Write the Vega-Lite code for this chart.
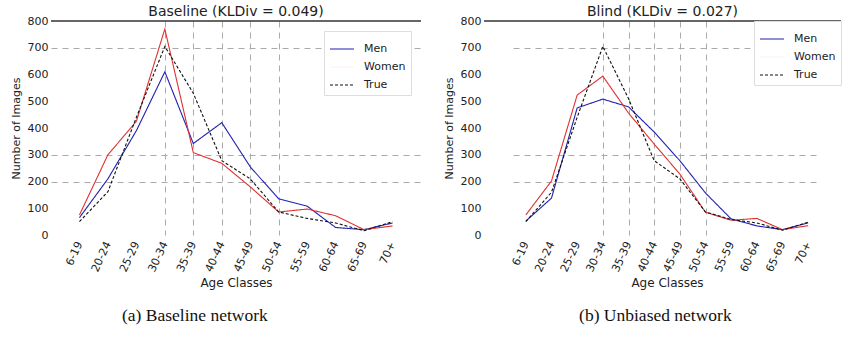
{
  "$schema": "https://vega.github.io/schema/vega-lite/v6.json",
  "padding": {"left": 10, "top": 5, "right": 0, "bottom": 0},
  "background": "white",
  "spacing": 21,
  "config": {
    "font": "DejaVu Sans",
    "view": {"stroke": null},
    "axis": {"labelFont": "DejaVu Sans", "titleFont": "DejaVu Sans", "labelColor": "#222222", "titleColor": "#222222", "titleFontWeight": "normal", "domain": false, "ticks": false},
    "title": {"font": "DejaVu Sans", "fontWeight": "normal", "fontSize": 14, "color": "#222222"},
    "legend": {"labelFont": "DejaVu Sans", "labelFontSize": 11, "labelColor": "#222222", "fillColor": "white", "strokeColor": "#dddddd", "padding": 5, "symbolType": "stroke", "symbolSize": 576, "symbolStrokeWidth": 1.2, "rowPadding": -6.5, "labelOffset": 9}
  },
  "datasets": {
    "baseline": [
      {"age": "6-19", "series": "Men", "count": 65}, {"age": "20-24", "series": "Men", "count": 210}, {"age": "25-29", "series": "Men", "count": 390}, {"age": "30-34", "series": "Men", "count": 610}, {"age": "35-39", "series": "Men", "count": 342}, {"age": "40-44", "series": "Men", "count": 420}, {"age": "45-49", "series": "Men", "count": 255}, {"age": "50-54", "series": "Men", "count": 135}, {"age": "55-59", "series": "Men", "count": 108}, {"age": "60-64", "series": "Men", "count": 28}, {"age": "65-69", "series": "Men", "count": 20}, {"age": "70+", "series": "Men", "count": 45},
      {"age": "6-19", "series": "Women", "count": 75}, {"age": "20-24", "series": "Women", "count": 300}, {"age": "25-29", "series": "Women", "count": 425}, {"age": "30-34", "series": "Women", "count": 770}, {"age": "35-39", "series": "Women", "count": 308}, {"age": "40-44", "series": "Women", "count": 268}, {"age": "45-49", "series": "Women", "count": 180}, {"age": "50-54", "series": "Women", "count": 86}, {"age": "55-59", "series": "Women", "count": 97}, {"age": "60-64", "series": "Women", "count": 72}, {"age": "65-69", "series": "Women", "count": 20}, {"age": "70+", "series": "Women", "count": 34},
      {"age": "6-19", "series": "True", "count": 50}, {"age": "20-24", "series": "True", "count": 162}, {"age": "25-29", "series": "True", "count": 440}, {"age": "30-34", "series": "True", "count": 705}, {"age": "35-39", "series": "True", "count": 530}, {"age": "40-44", "series": "True", "count": 278}, {"age": "45-49", "series": "True", "count": 210}, {"age": "50-54", "series": "True", "count": 86}, {"age": "55-59", "series": "True", "count": 62}, {"age": "60-64", "series": "True", "count": 45}, {"age": "65-69", "series": "True", "count": 16}, {"age": "70+", "series": "True", "count": 50}
    ],
    "blind": [
      {"age": "6-19", "series": "Men", "count": 52}, {"age": "20-24", "series": "Men", "count": 138}, {"age": "25-29", "series": "Men", "count": 475}, {"age": "30-34", "series": "Men", "count": 508}, {"age": "35-39", "series": "Men", "count": 479}, {"age": "40-44", "series": "Men", "count": 385}, {"age": "45-49", "series": "Men", "count": 278}, {"age": "50-54", "series": "Men", "count": 157}, {"age": "55-59", "series": "Men", "count": 60}, {"age": "60-64", "series": "Men", "count": 34}, {"age": "65-69", "series": "Men", "count": 20}, {"age": "70+", "series": "Men", "count": 45},
      {"age": "6-19", "series": "Women", "count": 75}, {"age": "20-24", "series": "Women", "count": 202}, {"age": "25-29", "series": "Women", "count": 523}, {"age": "30-34", "series": "Women", "count": 594}, {"age": "35-39", "series": "Women", "count": 456}, {"age": "40-44", "series": "Women", "count": 340}, {"age": "45-49", "series": "Women", "count": 228}, {"age": "50-54", "series": "Women", "count": 85}, {"age": "55-59", "series": "Women", "count": 55}, {"age": "60-64", "series": "Women", "count": 62}, {"age": "65-69", "series": "Women", "count": 20}, {"age": "70+", "series": "Women", "count": 35},
      {"age": "6-19", "series": "True", "count": 50}, {"age": "20-24", "series": "True", "count": 160}, {"age": "25-29", "series": "True", "count": 440}, {"age": "30-34", "series": "True", "count": 705}, {"age": "35-39", "series": "True", "count": 510}, {"age": "40-44", "series": "True", "count": 278}, {"age": "45-49", "series": "True", "count": 210}, {"age": "50-54", "series": "True", "count": 86}, {"age": "55-59", "series": "True", "count": 58}, {"age": "60-64", "series": "True", "count": 45}, {"age": "65-69", "series": "True", "count": 18}, {"age": "70+", "series": "True", "count": 48}
    ],
    "top": [{"limit": 800}]
  },
  "hconcat": [
    {
      "title": {"text": "(a) Baseline network", "orient": "bottom", "anchor": "middle", "font": "Liberation Serif", "fontSize": 17.5, "color": "#111111", "dx": -21, "offset": 19},
      "resolve": {"scale": {"color": "independent", "strokeDash": "independent"}},
      "vconcat": [
        {
          "width": 370,
          "height": 214,
          "title": {"text": "Baseline (KLDiv = 0.049)", "offset": -4},
          "layer": [
            {
              "data": {"name": "top"},
              "mark": {"type": "rule", "color": "#333333", "strokeWidth": 1.5},
              "encoding": {"y": {"field": "limit", "type": "quantitative", "scale": {"domain": [0, 800], "nice": false},
                "axis": {"title": "Number of Images", "titleFontSize": 11, "titlePadding": 6, "labelFontSize": 11, "labelPadding": 3, "values": [0,100,200,300,400,500,600,700,800], "grid": true, "gridDash": [6, 5], "gridColor": "#aaaaaa",
                  "gridOpacity": {"condition": {"test": "datum.value === 700 || datum.value === 300 || datum.value === 200", "value": 1}, "value": 0}}}}
            },
            {
              "data": {"name": "baseline"},
              "mark": {"type": "line", "strokeWidth": 1.1},
              "encoding": {
                "x": {"field": "age", "type": "ordinal", "sort": ["6-19","20-24","25-29","30-34","35-39","40-44","45-49","50-54","55-59","60-64","65-69","70+"], "scale": {"type": "point", "padding": 1},
                  "axis": {"title": "Age Classes", "titleFontSize": 12, "titlePadding": 4, "labelAngle": -65, "labelFontSize": 11, "labelPadding": 7, "grid": true, "gridDash": [6, 5], "gridColor": "#aaaaaa",
                    "gridOpacity": {"condition": {"test": "indexof(['30-34','35-39','40-44','45-49','50-54'], datum.value) >= 0", "value": 1}, "value": 0}}},
                "y": {"field": "count", "type": "quantitative", "scale": {"domain": [0, 800], "nice": false},
                  "axis": {"title": "Number of Images", "titleFontSize": 11, "titlePadding": 6, "labelFontSize": 11, "labelPadding": 3, "values": [0,100,200,300,400,500,600,700,800], "grid": true, "gridDash": [6, 5], "gridColor": "#aaaaaa",
                    "gridOpacity": {"condition": {"test": "datum.value === 700 || datum.value === 300 || datum.value === 200", "value": 1}, "value": 0}}},
                "color": {"field": "series", "type": "nominal", "scale": {"domain": ["Men","Women","True"], "range": ["#2020b0","#e03030","#111111"]},
                  "legend": {"title": null, "orient": "top-right", "offset": 10,
                    "encode": {"symbols": {"update": {"opacity": {"signal": "datum.value === 'Women' ? 0.06 : 1"}}}}}},
                "strokeDash": {"field": "series", "type": "nominal", "scale": {"domain": ["Men","Women","True"], "range": [[1,0],[1,0],[3,2]]},
                  "legend": {"title": null, "orient": "top-right", "offset": 10,
                    "encode": {"symbols": {"update": {"opacity": {"signal": "datum.value === 'Women' ? 0.06 : 1"}}}}}}
              }
            }
          ]
        }
      ]
    },
    {
      "title": {"text": "(b) Unbiased network", "orient": "bottom", "anchor": "middle", "font": "Liberation Serif", "fontSize": 17.5, "color": "#111111", "dx": 13, "offset": 19},
      "resolve": {"scale": {"color": "independent", "strokeDash": "independent"}},
      "vconcat": [
        {
          "width": 357,
          "height": 214,
          "title": {"text": "Blind (KLDiv = 0.027)", "offset": -4},
          "layer": [
            {
              "data": {"name": "top"},
              "mark": {"type": "rule", "color": "#333333", "strokeWidth": 1.5},
              "encoding": {"y": {"field": "limit", "type": "quantitative", "scale": {"domain": [0, 800], "nice": false},
                "axis": {"title": "Number of Images", "titleFontSize": 11, "titlePadding": 6, "labelFontSize": 11, "labelPadding": 3, "values": [0,100,200,300,400,500,600,700,800], "grid": true, "gridDash": [6, 5], "gridColor": "#aaaaaa",
                  "gridOpacity": {"condition": {"test": "datum.value === 700 || datum.value === 300 || datum.value === 200", "value": 1}, "value": 0}}}}
            },
            {
              "data": {"name": "blind"},
              "mark": {"type": "line", "strokeWidth": 1.1},
              "encoding": {
                "x": {"field": "age", "type": "ordinal", "sort": ["6-19","20-24","25-29","30-34","35-39","40-44","45-49","50-54","55-59","60-64","65-69","70+"], "scale": {"type": "point", "range": [29, 337]},
                  "axis": {"title": "Age Classes", "titleFontSize": 12, "titlePadding": 4, "labelAngle": -65, "labelFontSize": 11, "labelPadding": 7, "grid": true, "gridDash": [6, 5], "gridColor": "#aaaaaa",
                    "gridOpacity": {"condition": {"test": "indexof(['30-34','35-39','40-44','45-49','50-54'], datum.value) >= 0", "value": 1}, "value": 0}}},
                "y": {"field": "count", "type": "quantitative", "scale": {"domain": [0, 800], "nice": false},
                  "axis": {"title": "Number of Images", "titleFontSize": 11, "titlePadding": 6, "labelFontSize": 11, "labelPadding": 3, "values": [0,100,200,300,400,500,600,700,800], "grid": true, "gridDash": [6, 5], "gridColor": "#aaaaaa",
                    "gridOpacity": {"condition": {"test": "datum.value === 700 || datum.value === 300 || datum.value === 200", "value": 1}, "value": 0}}},
                "color": {"field": "series", "type": "nominal", "scale": {"domain": ["Men","Women","True"], "range": ["#2020b0","#e03030","#111111"]},
                  "legend": {"title": null, "orient": "top-right", "offset": 0,
                    "encode": {"symbols": {"update": {"opacity": {"signal": "datum.value === 'Women' ? 0.06 : 1"}}}}}},
                "strokeDash": {"field": "series", "type": "nominal", "scale": {"domain": ["Men","Women","True"], "range": [[1,0],[1,0],[3,2]]},
                  "legend": {"title": null, "orient": "top-right", "offset": 0,
                    "encode": {"symbols": {"update": {"opacity": {"signal": "datum.value === 'Women' ? 0.06 : 1"}}}}}}
              }
            }
          ]
        }
      ]
    }
  ],
  "resolve": {"scale": {"color": "independent", "strokeDash": "independent"}}
}
